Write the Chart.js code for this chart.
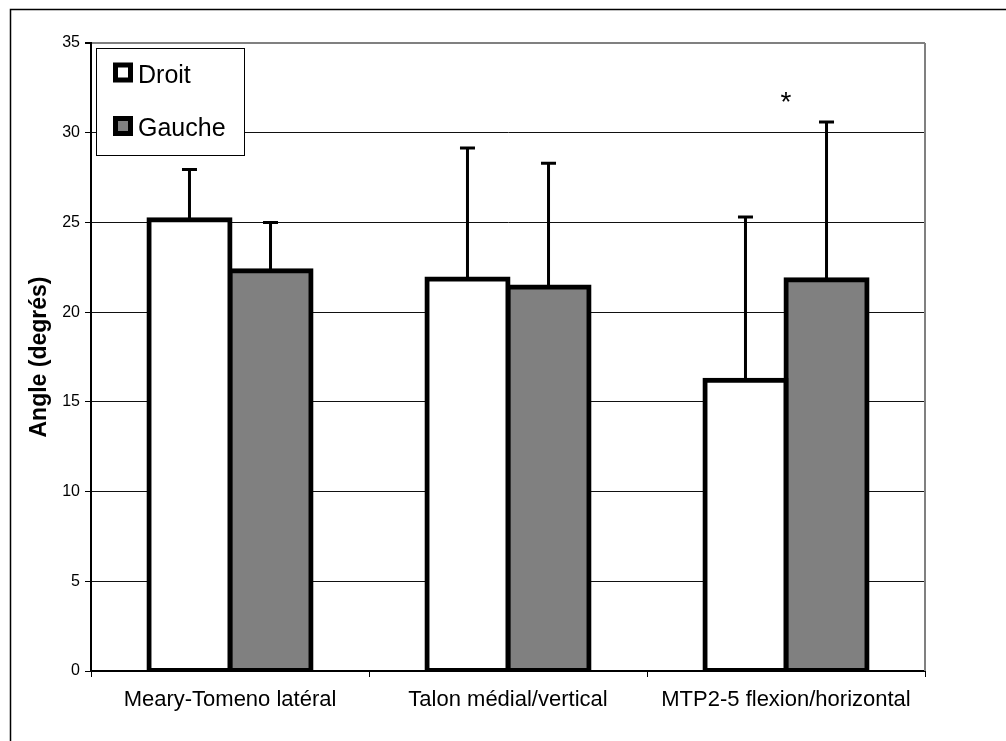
<!DOCTYPE html>
<html lang="fr">
<head>
<meta charset="utf-8">
<title>Angle (degrés)</title>
<script src="https://cdn.jsdelivr.net/npm/chart.js@4.4.0/dist/chart.umd.min.js"></script>
<style>
  html, body { margin: 0; padding: 0; background: #fff; }
  #angles { display: block; }
</style>
</head>
<body>
<canvas id="angles" width="1006" height="741"></canvas>
<script>
// mesures (moyenne + écart-type), en degrés
const categories = ['Meary-Tomeno latéral', 'Talon médial/vertical', 'MTP2-5 flexion/horizontal'];
const droitMean = [25.15, 21.85, 16.2];
const droitSD = [2.8, 7.3, 9.1];
const gaucheMean = [22.3, 21.4, 21.8];
const gaucheSD = [2.7, 6.9, 8.8];
const yTicks = [0, 5, 10, 15, 20, 25, 30, 35];
// astérisque de significativité : [index catégorie, hauteur en degrés]
const signif = [[2, 32.1]];

const FONT = "'Liberation Sans', Arial, sans-serif";

// cadre extérieur (haut + gauche) et bordure grise du graphique
const frame = {
  id: 'frame',
  beforeDraw(chart) {
    const ctx = chart.ctx;
    ctx.save();
    ctx.strokeStyle = '#000';
    ctx.lineWidth = 1.5;
    ctx.strokeRect(10.5, 9.5, 1200, 1000);
    ctx.restore();
  },
  beforeDatasetsDraw(chart) {
    const { ctx, chartArea: a } = chart;
    ctx.save();
    ctx.strokeStyle = '#808080';
    ctx.lineWidth = 2;
    ctx.beginPath();
    ctx.moveTo(a.right, a.top);
    ctx.lineTo(a.right, a.bottom);
    ctx.stroke();
    ctx.restore();
  }
};

// barres d'erreur (vers le haut seulement) + astérisque + légende
const errorBars = {
  id: 'errorBars',
  afterDatasetsDraw(chart) {
    const { ctx } = chart;
    const y = chart.scales.y;
    const x = chart.scales.x;
    ctx.save();
    ctx.strokeStyle = '#000';
    chart.data.datasets.forEach((ds, i) => {
      const meta = chart.getDatasetMeta(i);
      meta.data.forEach((bar, j) => {
        const top = y.getPixelForValue(ds.data[j] + ds.sd[j]);
        const base = y.getPixelForValue(ds.data[j]);
        ctx.lineWidth = 3;
        ctx.beginPath();
        ctx.moveTo(bar.x, base);
        ctx.lineTo(bar.x, top);
        ctx.moveTo(bar.x - 7.5, top);
        ctx.lineTo(bar.x + 7.5, top);
        ctx.stroke();
      });
    });

    ctx.fillStyle = '#000';
    ctx.font = `28px ${FONT}`;
    ctx.textAlign = 'center';
    ctx.textBaseline = 'alphabetic';
    signif.forEach(([idx, v]) => {
      ctx.fillText('*', x.getPixelForValue(idx), y.getPixelForValue(v) + 0.58 * 28);
    });
    ctx.restore();
  },
  afterDraw(chart) {
    const { ctx, chartArea: a } = chart;
    const bx = a.left + 5.5, by = a.top + 5.5, bw = 148, bh = 107;
    ctx.save();
    ctx.fillStyle = '#fff';
    ctx.fillRect(bx, by, bw, bh);
    ctx.strokeStyle = '#000';
    ctx.lineWidth = 1;
    ctx.strokeRect(bx, by, bw, bh);

    ctx.font = `25px ${FONT}`;
    ctx.textAlign = 'left';
    ctx.textBaseline = 'alphabetic';
    chart.data.datasets.forEach((ds, i) => {
      const sy = by + 14 + i * 53.5;
      const sx = bx + 16.5;
      ctx.fillStyle = '#000';
      ctx.fillRect(sx, sy, 20, 20);
      ctx.fillStyle = ds.backgroundColor;
      ctx.fillRect(sx + 5, sy + 5, 10, 10);
      ctx.fillStyle = '#000';
      ctx.fillText(ds.label, sx + 25, sy + 20);
    });
    ctx.restore();
  }
};

const barStyle = {
  borderColor: '#000',
  borderWidth: 5,
  borderSkipped: false,
  inflateAmount: 2.5,
  barPercentage: 1,
  categoryPercentage: 0.583
};

new Chart(document.getElementById('angles'), {
  type: 'bar',
  data: {
    labels: categories,
    datasets: [
      { label: 'Droit', data: droitMean, sd: droitSD, backgroundColor: '#ffffff', ...barStyle },
      { label: 'Gauche', data: gaucheMean, sd: gaucheSD, backgroundColor: '#808080', ...barStyle }
    ]
  },
  options: {
    responsive: false,
    animation: false,
    layout: { padding: { top: 43, right: 81, left: 0, bottom: 0 } },
    plugins: {
      legend: { display: false },
      tooltip: { enabled: false }
    },
    scales: {
      x: {
        grid: { drawOnChartArea: false, drawTicks: true, tickLength: 6, color: '#000', lineWidth: 1 },
        border: { color: '#000', width: 2 },
        ticks: { color: '#000', font: { family: FONT, size: 22 }, padding: 10, maxRotation: 0 },
        afterFit(scale) { scale.height = 70; }
      },
      y: {
        min: 0,
        max: 35,
        afterBuildTicks(scale) { scale.ticks = yTicks.map(v => ({ value: v })); },
        grid: {
          color: ctx => ctx.tick && ctx.tick.value === 35 ? '#808080' : '#111',
          lineWidth: ctx => ctx.tick && ctx.tick.value === 35 ? 2 : 1,
          tickColor: '#000',
          tickLength: 6
        },
        border: { color: '#000', width: 2 },
        ticks: { color: '#000', font: { family: FONT, size: 16 }, padding: 5 },
        title: {
          display: true,
          text: 'Angle (degrés)',
          color: '#000',
          font: { family: FONT, size: 23, weight: 'bold' },
          padding: { top: 26, bottom: 0 }
        },
        afterFit(scale) { scale.width = 91; }
      }
    }
  },
  plugins: [frame, errorBars]
});
</script>
</body>
</html>
